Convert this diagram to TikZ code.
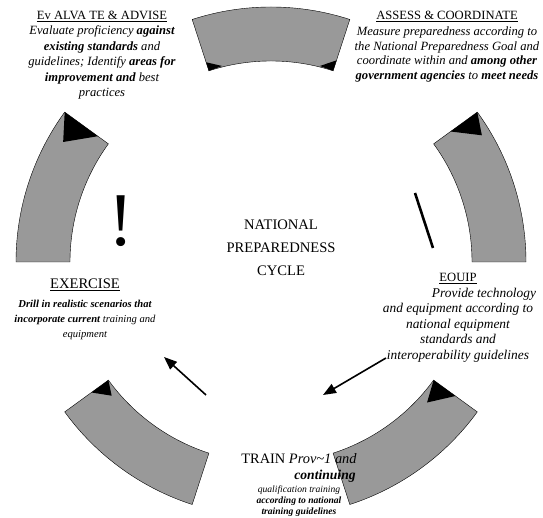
\documentclass[tikz,border=0pt]{standalone}
\usepackage{fontspec}
\setmainfont{Liberation Serif}
\usepackage{tikz}
\usetikzlibrary{arrows.meta}
\usetikzlibrary{positioning}
\tikzset{
    segment/.style = {draw=black, thin, fill=black!40},
    shade/.style = {fill=black},
    phase/.style = {align=center, inner sep=0pt, anchor=north},
    flow/.style = {-{Triangle[length=13pt,width=10pt]}, line width=1.6pt},
}

\begin{document}
\begin{tikzpicture}[x=1pt, y=1pt]
\useasboundingbox (0,0) rectangle (543,518);
\coordinate (hub) at (271,256);
%
\foreach \a in {0,72,...,288}
  \draw[segment] ([shift={(\a:255)}]hub) arc[start angle=\a, end angle=\a+36, radius=255]
    -- ([shift={(\a+36:201)}]hub) arc[start angle=\a+36, end angle=\a, radius=201] -- cycle;
%
\fill[shade] ([shift={(144:255)}]hub) -- ([shift={(144:214)}]hub) -- ([shift={(150:240)}]hub) -- cycle;
\fill[shade] ([shift={(36:255)}]hub) -- ([shift={(36:222)}]hub) -- ([shift={(31:246)}]hub) -- cycle;
\fill[shade] ([shift={(216:201)}]hub) -- ([shift={(216:222)}]hub) -- ([shift={(220:208)}]hub) -- cycle;
\fill[shade] ([shift={(324:201)}]hub) -- ([shift={(324:228)}]hub) -- ([shift={(318:210)}]hub) -- cycle;
\fill[shade] ([shift={(72:201)}]hub) -- ([shift={(72:212)}]hub) -- ([shift={(76:202)}]hub) -- cycle;
\fill[shade] ([shift={(108:201)}]hub) -- ([shift={(108:210)}]hub) -- ([shift={(104:202)}]hub) -- cycle;
%
\node[phase, font=\fontsize{12.6}{15.4}\selectfont\itshape] at (102,507) (evaluate) {%
  {\upshape\underline{Ev ALVA TE \& ADVISE}}\\
  Evaluate proficiency \textbf{against}\\
  \textbf{existing standards} and\\
  guidelines; Identify \textbf{areas for}\\
  \textbf{improvement and} best\\
  practices};
\node[phase, font=\fontsize{12.6}{14.6}\selectfont\itshape] at (447,507) (assess) {%
  {\upshape\underline{ASSESS \& COORDINATE}}\\[1.5pt]
  Measure preparedness according to\\
  the National Preparedness Goal and\\
  coordinate within and \textbf{among other}\\
  \textbf{government agencies} to \textbf{meet needs}};
\node[phase, font=\fontsize{10.6}{15}\selectfont\itshape] at (85,239) (exercise) {%
  {\fontsize{14.6}{16}\selectfont\upshape\underline{EXERCISE}}\\[4pt]
  \textbf{Drill in realistic scenarios that}\\
  \textbf{incorporate current} training and\\
  equipment};
\node[phase, font=\fontsize{13.4}{15.5}\selectfont\itshape] at (458,245) (equip) {%
  {\fontsize{12.6}{14}\selectfont\upshape\underline{EOUIP}}\\
  \hspace*{52pt}Provide technology\\
  and equipment according to\\
  national equipment\\
  standards and\\
  interoperability guidelines};
\node[phase, font=\fontsize{9.6}{10.6}\selectfont\itshape] at (299,65) (train) {%
  {\fontsize{14.4}{16}\selectfont\upshape TRAIN \itshape Prov\textasciitilde 1 and}\\[6pt]
  \hspace*{52pt}{\fontsize{13.6}{15}\selectfont\bfseries continuing}\\[2pt]
  qualification training\\[0.5pt]
  \textbf{according to national}\\
  \textbf{training guidelines}};
%
\node[align=center, font=\fontsize{14.6}{23}\selectfont] at (281,270) (title) {%
  NATIONAL\\ PREPAREDNESS\\ CYCLE};
\node[font=\fontsize{76}{76}\selectfont] at (121,297) (bang) {!};
\coordinate (stroke top) at (415,325);
\coordinate (stroke end) at (433,270);
\draw[line width=2.6pt] (stroke top) -- (stroke end);
%
\coordinate (equip out) at (386,160);
\coordinate (train in) at (323,123);
\coordinate (train out) at (206,123);
\coordinate (exercise in) at (164,161);
\draw[flow] (equip out) -- (train in);
\draw[flow] (train out) -- (exercise in);
\end{tikzpicture}
\end{document}
